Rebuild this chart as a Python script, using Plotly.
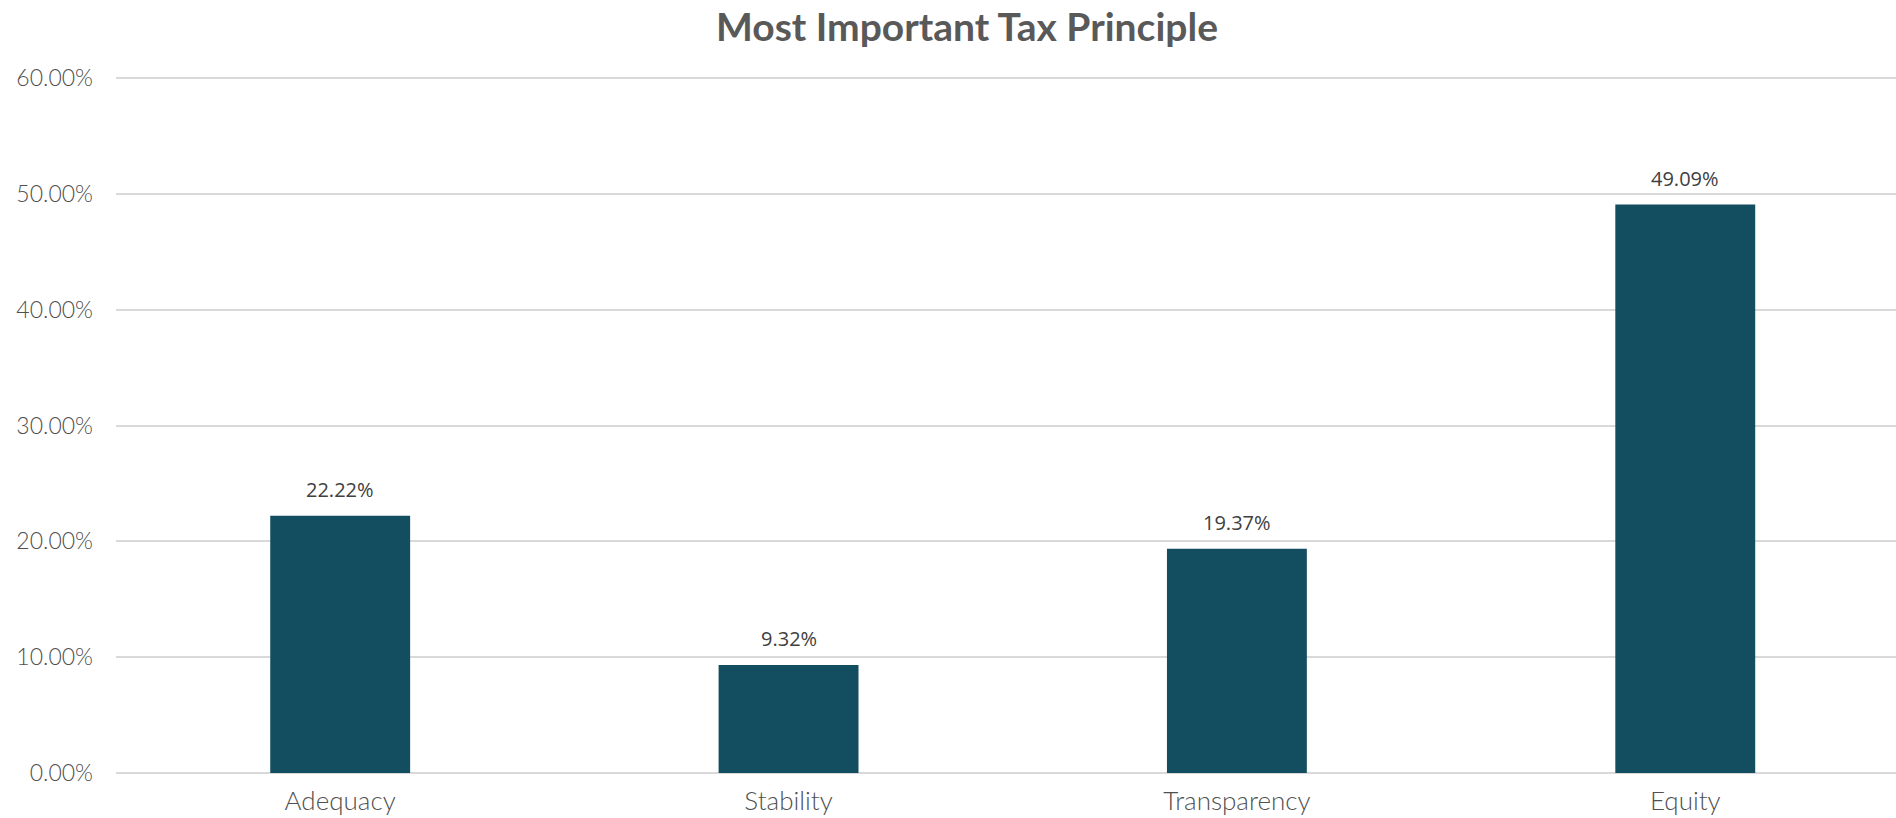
import plotly.graph_objects as go

# Survey shares for each tax principle
categories = ["Adequacy", "Stability", "Transparency", "Equity"]
shares = [22.22, 9.32, 19.37, 49.09]
y_ticks = [0, 10, 20, 30, 40, 50, 60]
y_tick_text = [f"{v:.2f}%" for v in y_ticks]

W, H = 1896, 818

fig = go.Figure(
    go.Bar(
        x=categories,
        y=shares,
        width=0.312,
        marker=dict(color="#124D60", line=dict(width=0)),
        hoverinfo="x+y",
    )
)

# Value labels sit a little above each bar
for cat, val in zip(categories, shares):
    fig.add_annotation(
        x=cat,
        y=val,
        text=f"{val:.2f}%",
        showarrow=False,
        xanchor="center",
        yanchor="bottom",
        yshift=11,
        font=dict(family="Open Sans", size=20, color="#404040"),
    )

fig.update_layout(
    width=W,
    height=H,
    margin=dict(l=116, r=0, t=77, b=45),
    paper_bgcolor="white",
    plot_bgcolor="white",
    showlegend=False,
    title=dict(
        text="<b>Most Important Tax Principle</b>",
        x=967 / W,
        xanchor="center",
        xref="container",
        y=1 - 27 / H,
        yanchor="middle",
        yref="container",
        font=dict(family="Lato", size=39, color="#595959", weight=900),
    ),
    xaxis=dict(
        range=[-0.5, 3.47],
        showgrid=False,
        showline=False,
        zeroline=False,
        ticks="",
        tickfont=dict(family="Lato", size=26, color="#505050", weight=300),
        ticklabelstandoff=10,
    ),
    yaxis=dict(
        range=[0, 60.1],
        tickvals=y_ticks,
        ticktext=y_tick_text,
        showgrid=True,
        gridcolor="#D9D9D9",
        gridwidth=1.6,
        zeroline=True,
        zerolinecolor="#D9D9D9",
        zerolinewidth=1.8,
        showline=False,
        ticks="",
        tickfont=dict(family="Lato", size=23, color="#505050", weight=300),
        ticklabelstandoff=22,
    ),
)

fig.write_html("out.html")
